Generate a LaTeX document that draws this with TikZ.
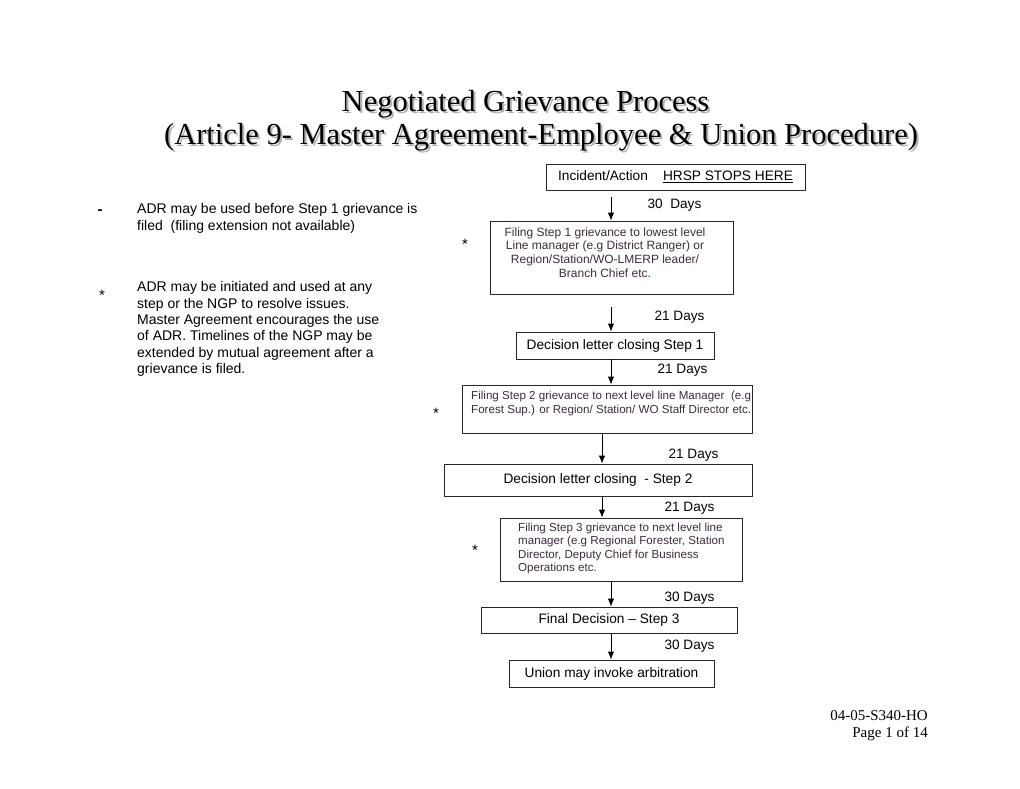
\documentclass[tikz,border=0pt]{standalone}
\usepackage{fontspec}
\setmainfont{Liberation Serif}
\newfontfamily\arialf{Liberation Sans}
\usetikzlibrary{arrows.meta}
\definecolor{filtxt}{RGB}{62,42,62}
\begin{document}
\begin{tikzpicture}[x=1pt,y=-1pt,
  box/.style={draw=black!85,line width=0.9pt,inner sep=0pt,font=\arialf\fontsize{13.7}{15}\selectfont},
  lbl/.style={font=\arialf\fontsize{13.6}{15}\selectfont,inner sep=0pt},
  small/.style={font=\arialf\fontsize{12}{13.7}\selectfont,inner sep=0pt,text=filtxt},
  smallb/.style={font=\arialf\fontsize{11.6}{13.3}\selectfont,inner sep=0pt,text=filtxt},
  side/.style={font=\arialf\fontsize{14}{16.3}\selectfont,inner sep=0pt,align=left,anchor=north west},
  star/.style={font=\arialf\fontsize{15}{15}\selectfont,inner sep=0pt},
  title/.style={font=\fontsize{30.5}{33}\selectfont,inner sep=0pt},
  foot/.style={font=\fontsize{15}{17}\selectfont,inner sep=0pt,anchor=east},
  arr/.style={-{Latex[length=8pt,width=6.5pt]},line width=0.9pt}]
\useasboundingbox (0,0) rectangle (1020,788);
% title with shadow
\node[title,text=gray!60] at (527.5,106.5) {Negotiated Grievance Process};
\node[title] (t1) at (525.5,104.5) {Negotiated Grievance Process};
\node[title,text=gray!60] at (543,139.5) {(Article 9- Master Agreement-Employee \& Union Procedure)};
\node[title] (t2) at (541,137.5) {(Article 9- Master Agreement-Employee \& Union Procedure)};
% boxes
\node[box,minimum width=259,minimum height=26] (b1) at (675.5,177) {Incident/Action\hspace{1.1em}\underline{HRSP STOPS HERE}};
\node[box,minimum width=243,minimum height=73] (b2) at (611.5,257.5) {};
\node[small,align=center] (t2b) at (605,252.5) {Filing Step 1 grievance to lowest level\\Line manager (e.g District Ranger) or\\Region/Station/WO-LMERP leader/\\Branch Chief etc.};
\node[box,minimum width=198,minimum height=27] (b3) at (615,345.5) {Decision letter closing Step 1};
\node[box,minimum width=290,minimum height=48] (b4) at (607,409) {};
\node[smallb,align=left,anchor=west] (t4b) at (471,403.5) {Filing Step 2 grievance to next level line Manager\ \ (e.g\\Forest Sup.) or Region/ Station/ WO Staff Director etc.};
\node[box,minimum width=308,minimum height=32] (b5) at (598,480) {Decision letter closing\ \ - Step 2};
\node[box,minimum width=242,minimum height=63] (b6) at (621,549.5) {};
\node[smallb,align=left,anchor=west] (t6b) at (518,548.5) {Filing Step 3 grievance to next level line\\manager (e.g Regional Forester, Station\\Director, Deputy Chief for Business\\Operations etc.};
\node[box,minimum width=256,minimum height=26] (b7) at (609,620) {Final Decision – Step 3};
\node[box,minimum width=205,minimum height=27] (b8) at (611.5,673.5) {Union may invoke arbitration};
% arrows
\coordinate (xa) at (611,0);
\coordinate (xb) at (602,0);
\coordinate (s1) at (611,197);
\coordinate (s2) at (611,307);
\draw[arr] (s1) -- (b2.north -| xa);
\draw[arr] (s2) -- (b3.north -| xa);
\draw[arr] (b3.south -| xa) -- (b4.north -| xa);
\draw[arr] (b4.south -| xb) -- (b5.north -| xb);
\draw[arr] (b5.south -| xb) -- (b6.north -| xb);
\draw[arr] (b6.south -| xa) -- (b7.north -| xa);
\draw[arr] (b7.south -| xa) -- (b8.north -| xa);
% day labels
\node[lbl] (d1) at (674.5,205.5) {30\ \ Days};
\node[lbl] (d2) at (679.5,317.5) {21 Days};
\node[lbl] (d3) at (682.5,370.5) {21 Days};
\node[lbl] (d4) at (693.5,455.5) {21 Days};
\node[lbl] (d5) at (689.5,508) {21 Days};
\node[lbl] (d6) at (689.5,598) {30 Days};
\node[lbl] (d7) at (689.5,646) {30 Days};
% stars
\node[star] (st1) at (465,244) {*};
\node[star] (st2) at (436,413) {*};
\node[star] (st3) at (475,550) {*};
% side notes
\node[lbl,font=\arialf\fontsize{15}{16}\selectfont\bfseries] (dash) at (100,212) {-};
\node[side] (n1) at (137,203.5) {ADR may be used before Step 1 grievance is\\filed\ \ (filing extension not available)};
\node[star] (st0) at (102,295) {*};
\node[side] (n2) at (137,281.5) {ADR may be initiated and used at any\\step or the NGP to resolve issues.\\Master Agreement encourages the use\\of ADR. Timelines of the NGP may be\\extended by mutual agreement after a\\grievance is filed.};
% footer
\node[foot] (f1) at (928,716) {04-05-S340-HO};
\node[foot] (f2) at (928,734) {Page 1 of 14};
\end{tikzpicture}
\end{document}
